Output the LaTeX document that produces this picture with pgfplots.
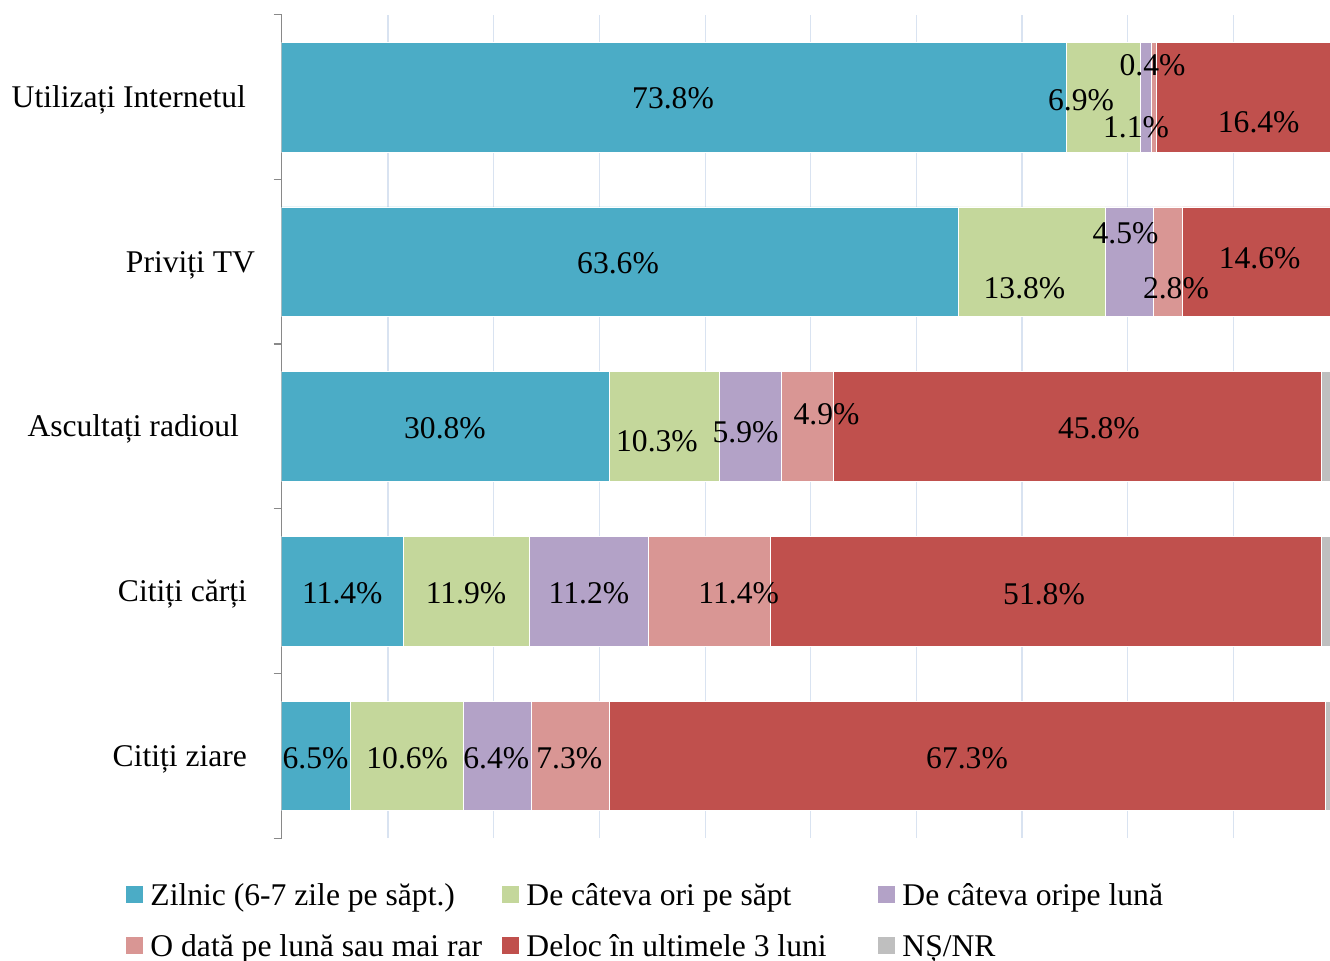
\documentclass[border=0pt]{standalone}
\usepackage{fontspec}
\setmainfont{Liberation Serif}
\usepackage{pgfplots}
\usepackage{pgfplotstable}
\pgfplotsset{compat=1.18}
\definecolor{cZil}{HTML}{4BACC6}
\definecolor{cSapt}{HTML}{C4D79B}
\definecolor{cLuna}{HTML}{B3A2C7}
\definecolor{cRar}{HTML}{D99694}
\definecolor{cDeloc}{HTML}{C0504D}
\definecolor{cNS}{HTML}{BFBFBF}
\definecolor{gridc}{HTML}{D9E3F1}
\definecolor{axisgray}{HTML}{898989}
\newcommand{\fnt}{\fontsize{15.8}{19}\selectfont}
\newcommand{\LE}[1]{\hspace*{3.9pt}\makebox[175.75pt][l]{#1}}

\pgfplotstableread{
y   zil   sapt  luna  rar   deloc  ns
0   6.5   10.6  6.4   7.3   67.3   1.9
1   11.4  11.9  11.2  11.4  51.8   2.3
2   30.8  10.3  5.9   4.9   45.8   2.3
3   63.6  13.8  4.5   2.8   14.6   0.7
4   73.8  6.9   1.1   0.4   16.4   1.4
}\bars

\pgfplotstableread{
x      y       t
36.79  3.991   73.8
75.14  3.982   6.9
80.31  3.815   1.1
81.87  4.191   0.4
91.85  3.845   16.4
31.62  2.989   63.6
69.83  2.837   13.8
79.33  3.171   4.5
84.07  2.837   2.8
91.94  3.022   14.6
15.35  1.987   30.8
35.28  1.911   10.3
43.60  1.963   5.9
51.22  2.072   4.9
76.83  1.987   45.8
5.70   0.987   11.4
17.33  0.987   11.9
28.88  0.987   11.2
42.96  0.987   11.4
71.67  0.985   51.8
3.18   -0.015  6.5
11.80  -0.015  10.6
20.18  -0.015  6.4
27.03  -0.015  7.3
64.43  -0.016  67.3
}\labels

\begin{document}
\begin{tikzpicture}[font=\fnt]
\useasboundingbox (0,0) rectangle (665pt,480pt);
\clip (0,0) rectangle (665pt,480pt);
\begin{axis}[
  at={(140.85pt,60.9pt)}, anchor=south west,
  scale only axis, width=531.85pt, height=411.75pt,
  xbar stacked, bar width=0.666,
  xmin=0, xmax=100, ymin=-0.5, ymax=4.5,
  axis x line*=bottom, axis y line*=left,
  x axis line style={draw=none},
  y axis line style={draw=axisgray, line width=0.65pt, -},
  xtick={9.99,19.93,29.86,39.80,49.72,59.66,69.60,79.52,89.46},
  xticklabels={},
  xmajorgrids, grid style={draw=gridc, line width=0.55pt},
  major tick length=0pt,
  ytick={0,1,2,3,4},
  yticklabels={Citiți ziare, Citiți cărți, Ascultați radioul\hspace*{4pt}, Priviți TV\hspace*{-4pt}, Utilizați Internetul\hspace*{0.5pt}},
  minor ytick={-0.5,0.5,1.5,2.5,3.5,4.5},
  minor tick length=4pt, tick align=outside,
  y tick style={draw=axisgray, line width=0.65pt},
  yticklabel style={font=\fnt, inner sep=0pt, text height=10.35pt, text depth=0pt, anchor=east, xshift=-17.15pt},
  legend columns=3, legend cell align=left,
  legend image code/.code={\fill[#1, draw=none] (0pt,-2pt) rectangle (8.35pt,6.35pt);},
  legend style={at={(axis description cs:-0.1464,-0.0556)}, anchor=north west,
    draw=none, fill=none, inner sep=0pt, outer sep=0pt, column sep=0pt, row sep=10.3pt,
    font=\fnt, nodes={inner sep=0pt, text height=11pt, text depth=4pt}},
]
\addplot[fill=cZil, draw=white, line width=0.35pt] table[x=zil, y=y] {\bars};
\addlegendentry{\LE{Zilnic (6-7 zile pe săpt.)}}
\addplot[fill=cSapt, draw=white, line width=0.35pt] table[x=sapt, y=y] {\bars};
\addlegendentry{\LE{De câteva ori pe săpt}}
\addplot[fill=cLuna, draw=white, line width=0.35pt] table[x=luna, y=y] {\bars};
\addlegendentry{\LE{De câteva oripe lună}}
\addplot[fill=cRar, draw=white, line width=0.35pt] table[x=rar, y=y] {\bars};
\addlegendentry{\LE{O dată pe lună sau mai rar}}
\addplot[fill=cDeloc, draw=white, line width=0.35pt] table[x=deloc, y=y] {\bars};
\addlegendentry{\LE{Deloc în ultimele 3 luni}}
\addplot[fill=cNS, draw=white, line width=0.35pt] table[x=ns, y=y] {\bars};
\addlegendentry{\LE{NȘ/NR}}
\end{axis}
\begin{axis}[
  at={(140.85pt,60.9pt)}, anchor=south west,
  scale only axis, width=531.85pt, height=411.75pt,
  xmin=0, xmax=100, ymin=-0.5, ymax=4.5,
  hide axis, clip=false,
]
\addplot[draw=none, mark=none, nodes near coords={\pgfplotspointmeta\%},
  point meta=explicit symbolic,
  every node near coord/.append style={font=\fnt, inner sep=0pt, text height=10.4pt, text depth=0pt, anchor=center}]
  table[x=x, y=y, meta=t] {\labels};
\end{axis}
\end{tikzpicture}
\end{document}
